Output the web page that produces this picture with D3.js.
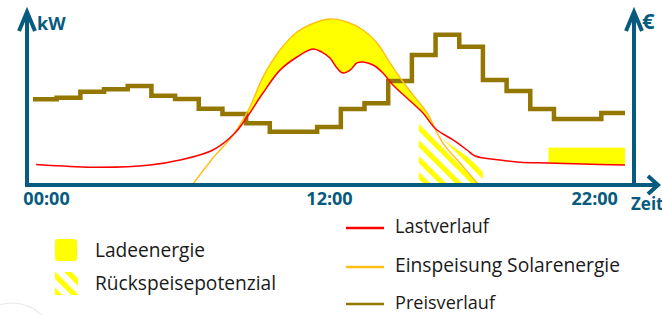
<!DOCTYPE html>
<html><head><meta charset="utf-8">
<script src="https://cdn.jsdelivr.net/npm/d3@7"></script>
<style>
html,body{margin:0;padding:0;background:#fff;}
svg{display:block;}
</style></head>
<body>
<svg id="chart" width="662" height="315"></svg>
<script>
// ---------- DATA ----------
// hourly price steps (slot i spans hour i .. i+1), arbitrary units
const priceSlots = [49.8,50.8,54.3,55.7,57.6,51.9,50.0,44.3,41.2,35.7,30.8,30.8,33.5,44.1,47.5,60.6,75.9,87.8,80.8,61.2,54.7,44.1,38.2,38.2,41.8];
// load profile (Lastverlauf): hour, kW
const loadHours = [0.13,1.56,2.83,4.94,6.21,7.6,8.53,9.04,9.71,10.43,11.15,11.82,12.2,12.54,12.84,13.09,13.39,13.68,13.94,14.36,14.78,15.2,15.79,16.47,17.0,17.74,18.33,18.67,19.72,20.57,21.7,23.2,25];
const loadKW    = [11.4,10.3,9.8,11.2,14.1,20.0,30.0,39.4,53.5,67.0,74.7,79.4,77.6,74.1,68.2,65.3,67.0,71.2,71.8,70.0,65.3,58.2,50.6,41.8,32.5,25.9,20.0,16.5,14.1,12.8,12.4,11.8,11.2];
// solar feed-in (Einspeisung Solarenergie): hour, kW
const solarHours = [6.76,7.6,8.45,9.16,9.71,10.43,11.15,11.99,12.54,13.26,13.94,14.53,15.08,15.63,16.22,16.64,17.31,18.03,18.79];
const solarKW    = [0,15.3,28.8,45.3,62.9,78.8,89.4,95.3,97.1,95.3,90.6,82.9,71.2,60.0,49.4,41.8,24.1,12.4,0];
// charging block in the evening (Ladeenergie)
const chargeHours = [21.77, 25];
const chargeTopKW = 21.4;
// feed-back potential (Rückspeisepotenzial): hour, top kW
const feedbackHours = [16.3, 19.0];
const feedbackTopKW = [36.5, 9.4];
// axis ticks
const tickHours  = [0.55, 12.5, 23.7];
const tickLabels = ["00:00", "12:00", "22:00"];
// legend
const legendAreas = ["Ladeenergie", "Rückspeisepotenzial"];
const legendLines = ["Lastverlauf", "Einspeisung Solarenergie", "Preisverlauf"];

// ---------- STYLE ----------
const AXIS = "#075B7F", YEL = "#FFFF00", RED = "#FF0000", SOL = "#FFBE14", PRICE = "#937700";

const svg = d3.select("#chart");
const x = d3.scaleLinear().domain([0, 25]).range([33, 625]);
const y = d3.scaleLinear().domain([0, 100]).range([184, 14]);
const yPrice = d3.scaleLinear().domain([0, 100]).range([184, 14]);
const smooth = d3.curveCatmullRom.alpha(0.5);

const load = loadHours.map((h,i)=>({h, v: loadKW[i]}));
const solar = solarHours.map((h,i)=>({h, v: solarKW[i]}));
const price = priceSlots.map((v,i)=>({h:i, v})).concat([{h:25, v:priceSlots[priceSlots.length-1]}]);

const defs = svg.append("defs");
// clip: region above the load curve
defs.append("clipPath").attr("id","aboveLoad")
  .append("path")
  .attr("d", d3.area().x(d=>x(d.h)).y0(0).y1(d=>y(d.v)).curve(smooth)(load));
// hatch pattern
const pat = defs.append("pattern").attr("id","hatch").attr("patternUnits","userSpaceOnUse")
  .attr("width",11.3).attr("height",11.3).attr("patternTransform","rotate(-45)");
pat.append("rect").attr("x",0).attr("y",0).attr("width",5.2).attr("height",11.3).attr("fill",YEL);

// faint decoration arc bottom-left
svg.append("circle").attr("cx",12).attr("cy",345).attr("r",42)
  .attr("fill","none").attr("stroke","#e9e9e9").attr("stroke-width",1.2);

// Ladeenergie: solar surplus above load
const gFill = svg.append("g").attr("clip-path","url(#aboveLoad)");
gFill.append("path")
  .attr("d", d3.area().x(d=>x(d.h)).y0(y(0)).y1(d=>y(d.v)).curve(smooth)(solar))
  .attr("fill", YEL);
gFill.append("rect")
  .attr("x", x(chargeHours[0])).attr("width", x(chargeHours[1]) - x(chargeHours[0]))
  .attr("y", y(chargeTopKW)).attr("height", y(0) - y(chargeTopKW))
  .attr("fill", YEL);

// Rückspeisepotenzial hatch
const fb = feedbackHours.map((h,i)=>({h, v: feedbackTopKW[i]}));
svg.append("path")
  .attr("d", d3.area().x(d=>x(d.h)).y0(y(0)).y1(d=>y(d.v))(fb))
  .attr("fill","url(#hatch)");

// price step line
svg.append("path")
  .attr("d", d3.line().x(d=>x(d.h)).y(d=>yPrice(d.v)).curve(d3.curveStepAfter)(price))
  .attr("fill","none").attr("stroke",PRICE).attr("stroke-width",4.5).attr("stroke-linejoin","miter");

// solar line
svg.append("path")
  .attr("d", d3.line().x(d=>x(d.h)).y(d=>y(d.v)).curve(smooth)(solar))
  .attr("fill","none").attr("stroke",SOL).attr("stroke-width",1.4);

// load line
svg.append("path")
  .attr("d", d3.line().x(d=>x(d.h)).y(d=>y(d.v)).curve(smooth)(load))
  .attr("fill","none").attr("stroke",RED).attr("stroke-width",1.5);

// ---------- AXES ----------
const gAx = svg.append("g").attr("stroke",AXIS).attr("stroke-width",4).attr("fill","none")
  .attr("stroke-linejoin","miter").attr("stroke-linecap","butt");
gAx.append("line").attr("x1",25).attr("y1",185).attr("x2",656).attr("y2",185);
gAx.append("polyline").attr("points","648,176 658,185 648,194");
gAx.append("line").attr("x1",27).attr("y1",187).attr("x2",27).attr("y2",13);
gAx.append("polyline").attr("points","19,31 27,12 35,31");
gAx.append("line").attr("x1",634).attr("y1",187).attr("x2",634).attr("y2",13);
gAx.append("polyline").attr("points","626,31 634,12 642,31");

const xAxis = d3.axisBottom(x).tickValues(tickHours).tickFormat((d,i)=>tickLabels[i]).tickSize(0).tickPadding(0);
const gx = svg.append("g").attr("transform","translate(0,192)").call(xAxis);
gx.select(".domain").remove();
gx.selectAll("text").attr("fill",AXIS).attr("font-family","'Open Sans', sans-serif")
  .attr("font-weight","bold").attr("font-size","18px").attr("dy","0.71em");

const axText = (t, xx, yy, fs) => svg.append("text").attr("x",xx).attr("y",yy).text(t)
  .attr("fill",AXIS).attr("font-family","'Open Sans', sans-serif").attr("font-weight","bold").attr("font-size",fs);
axText("kW", 37, 30, "18px");
axText("€", 642, 29, "22px");
axText("Zeit", 631, 210, "17px");

// ---------- LEGEND ----------
const LF = "'Open Sans', sans-serif";
const legA = svg.append("g");
legA.append("rect").attr("x",55).attr("y",239).attr("width",22).attr("height",22).attr("rx",3).attr("fill",YEL);
legA.append("rect").attr("x",55).attr("y",272).attr("width",23).attr("height",23).attr("fill","url(#hatch)");
const areaTextLen = [110, 181];
legendAreas.forEach((t,i)=>{
  legA.append("text").attr("x",95).attr("y",[257,290][i]).text(t)
    .attr("font-family",LF).attr("font-size","20px").attr("fill","#1a1a1a")
    .attr("textLength",areaTextLen[i]).attr("lengthAdjust","spacingAndGlyphs");
});
const legB = svg.append("g");
const lineColors = [RED, SOL, PRICE];
const lineY = [228, 267, 304];
const lineTextLen = [94, 225, 100];
const lineFont = ["20px", "20px", "19px"];
legendLines.forEach((t,i)=>{
  legB.append("line").attr("x1",346).attr("x2",384).attr("y1",lineY[i]).attr("y2",lineY[i])
    .attr("stroke",lineColors[i]).attr("stroke-width",2.5);
  legB.append("text").attr("x",395).attr("y",lineY[i]+5).text(t)
    .attr("font-family",LF).attr("font-size",lineFont[i]).attr("fill","#1a1a1a")
    .attr("textLength",lineTextLen[i]).attr("lengthAdjust","spacingAndGlyphs");
});
</script>
</body></html>
